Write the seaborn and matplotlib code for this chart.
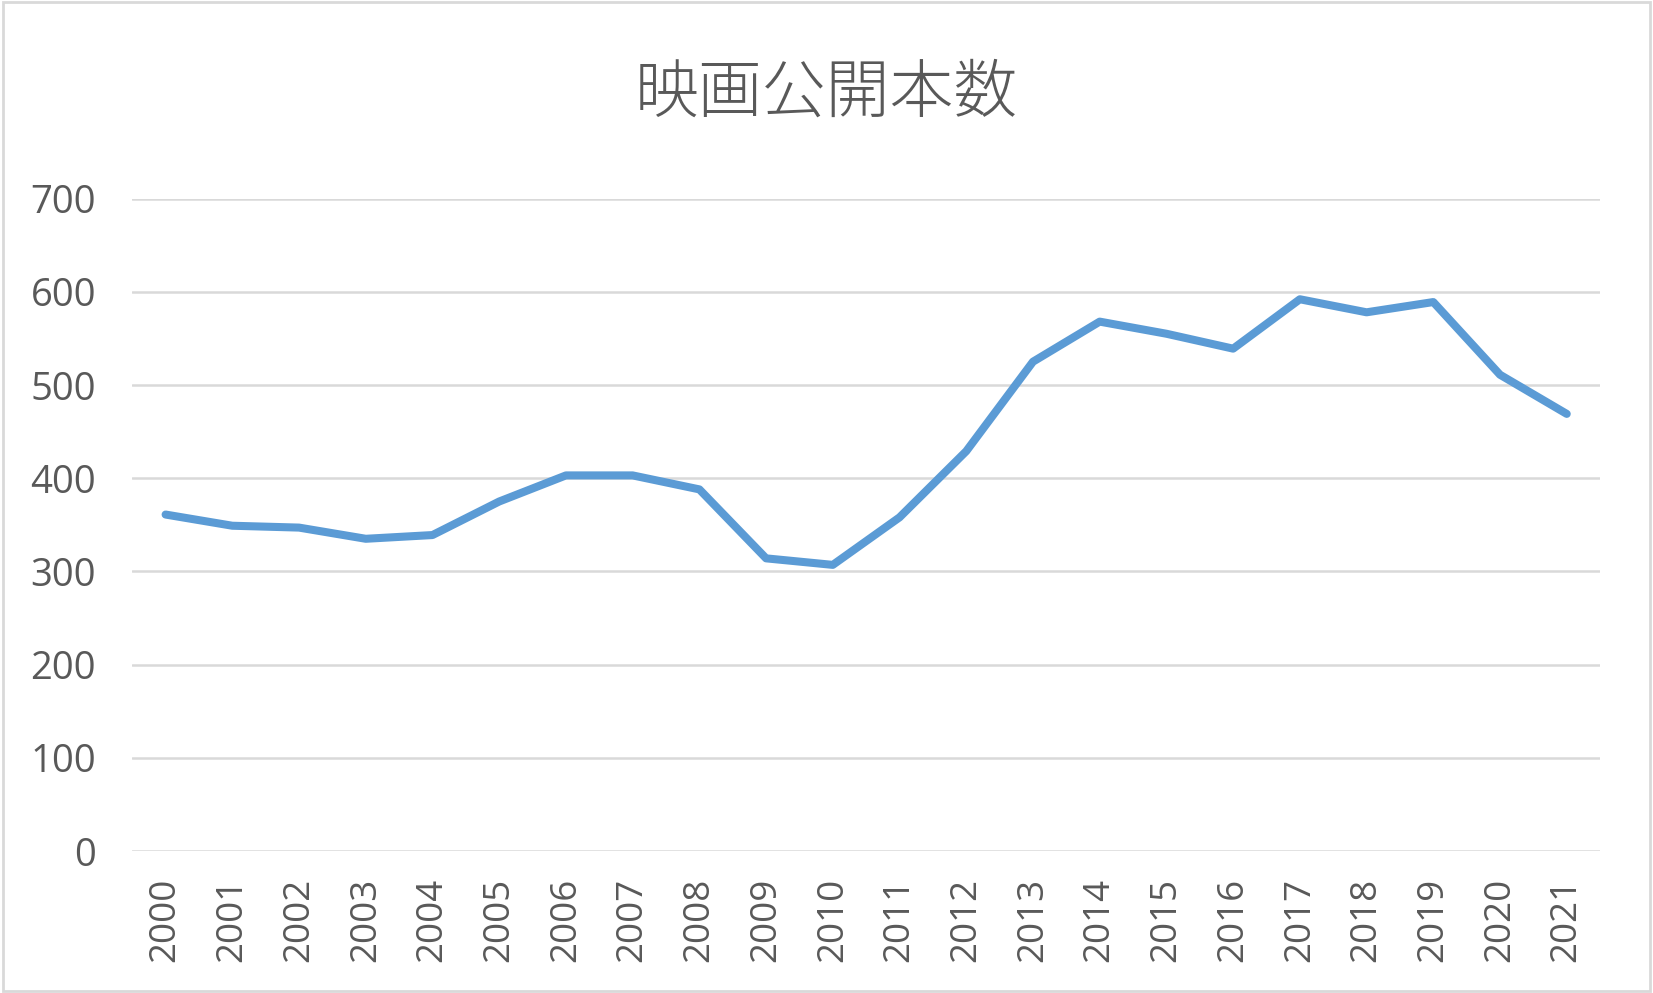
import matplotlib
matplotlib.use("Agg")
import matplotlib.pyplot as plt
import seaborn as sns
import pandas as pd
from matplotlib.patches import Rectangle

# 映画公開本数
years = [str(y) for y in range(2000, 2022)]
counts = [361, 349, 347, 335, 339, 375, 403, 403, 388, 314, 307,
          358, 429, 525, 568, 555, 539, 592, 578, 589, 511, 469]
y_ticks = [0, 100, 200, 300, 400, 500, 600, 700]

df = pd.DataFrame({"year": years, "count": counts})

sns.set_theme(style="white")
plt.rcParams['font.family'] = ['Noto Sans CJK JP', 'DejaVu Sans']

text_color = "#595959"
grid_color = "#D9D9D9"
line_color = "#5B9BD5"

fig = plt.figure(figsize=(16.53, 9.93), dpi=100)
ax = fig.add_axes([0.080, 0.143, 0.888, 0.657])

for t in y_ticks:
    ax.axhline(t, color=grid_color, linewidth=1.8, zorder=0)

sns.lineplot(data=df, x="year", y="count", ax=ax, color=line_color,
             linewidth=5.8, sort=False, solid_capstyle="round",
             solid_joinstyle="round", zorder=3)

ax.set_xlim(-0.5, len(years) - 0.5)
ax.set_ylim(0, 700)
ax.set_yticks(y_ticks)
ax.set_yticklabels([str(t) for t in y_ticks], family=['Open Sans', 'DejaVu Sans'],
                   fontsize=27.5, color=text_color)
ax.set_xticks(range(len(years)))
ax.set_xticklabels(years, rotation=90, family=['Open Sans', 'DejaVu Sans'],
                   fontsize=26.5, color=text_color)
ax.tick_params(axis="x", length=0, pad=19)
ax.tick_params(axis="y", length=0, pad=26)
for s in ax.spines.values():
    s.set_visible(False)
ax.set_xlabel("")
ax.set_ylabel("")

fig.text(0.5, 0.905, "映画公開本数", ha="center", va="center",
         fontsize=46, color=text_color, fontweight="light")

# light chart border
fig.patches.append(Rectangle((0.002, 0.002), 0.996, 0.996, transform=fig.transFigure,
                             fill=False, edgecolor=grid_color, linewidth=2))

fig.savefig("out.png", dpi=100)
